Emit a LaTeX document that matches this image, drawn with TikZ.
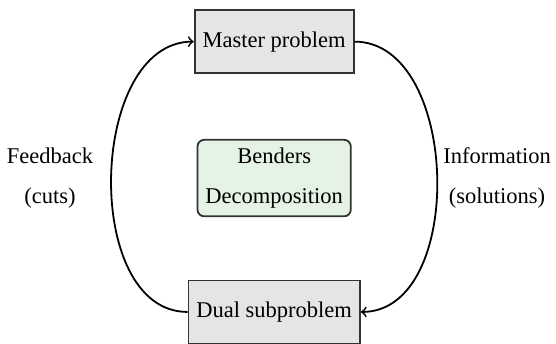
\documentclass[tikz,border=0pt]{standalone}
\usepackage{fontspec}
\setmainfont{Liberation Serif}
\usepackage[svgnames]{xcolor}
\usetikzlibrary{calc}

\definecolor{paleGreen}{RGB}{228,243,228}

\tikzset{
  probbox/.style={draw=black!80, fill=black!10, inner xsep=3.5pt, minimum height=28pt},
  methodbox/.style={draw=black!80, fill=paleGreen, rounded corners=3pt, align=center, inner xsep=3.5pt, minimum height=34pt},
  sidelabel/.style={align=center}
}

\begin{document}
\begin{tikzpicture}[thick]
            \useasboundingbox (-4.28,-2.59) rectangle (4.40,2.78);
            \node[probbox] (master) at (0,2.13) {Master problem};
            \node[probbox] (dual) at (0,-2.09) {Dual subproblem};
            \node[methodbox] (benders) at (0,0) {Benders\\[6pt]Decomposition};
            \node[sidelabel] (feedback) at (-3.50,0) {Feedback\\[6pt](cuts)};
            \node[sidelabel] (info) at (3.48,0) {Information\\[6pt](solutions)};
            \draw[->] (master.east) to[out=0,in=0] (dual.east);
            \draw[->] (dual.west) to[out=180,in=180] (master.west);
        \end{tikzpicture}
\end{document}
